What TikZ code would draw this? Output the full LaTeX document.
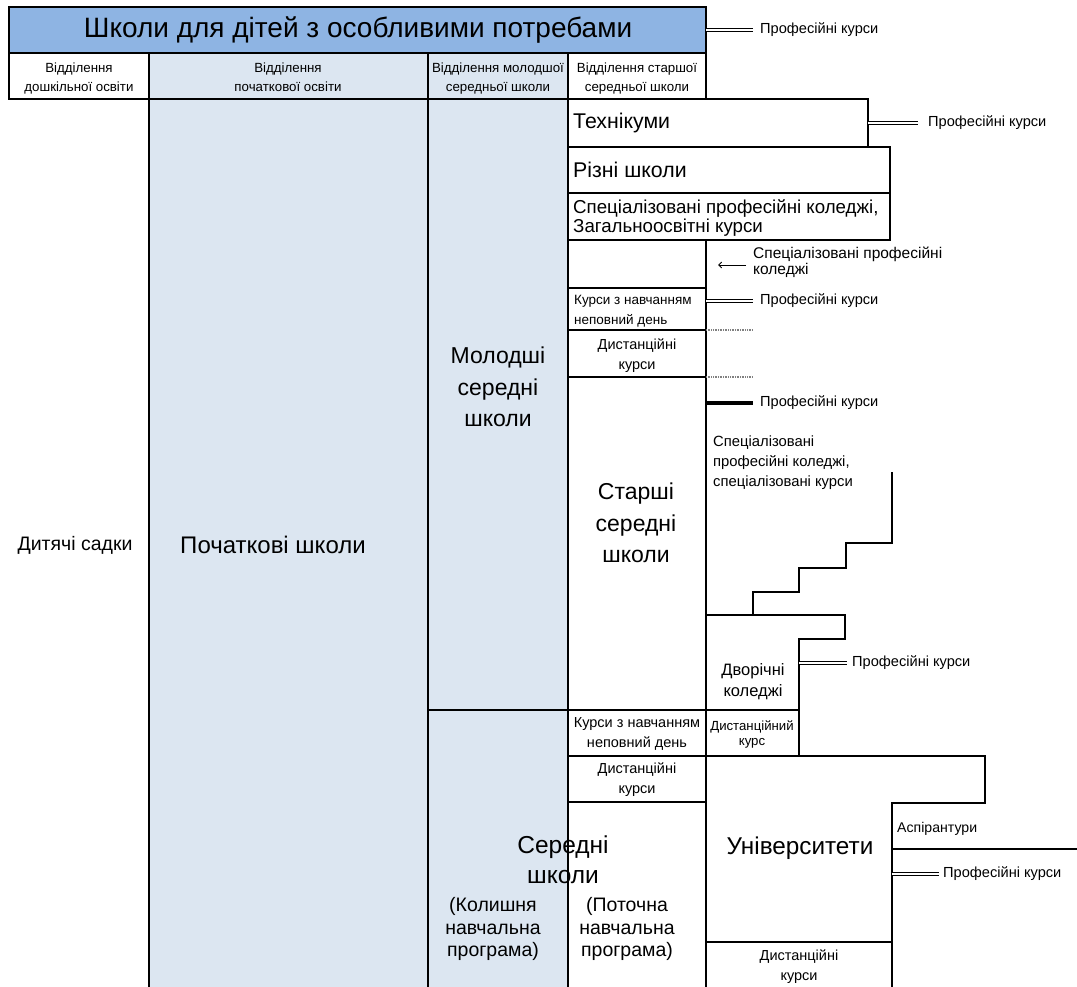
\documentclass[tikz,border=0pt]{standalone}
\usepackage{fontspec}
\setmainfont{Liberation Sans}
\usetikzlibrary{arrows.meta}
\definecolor{titleblue}{HTML}{8EB4E3}
\definecolor{paleblue}{HTML}{DCE6F1}
\newcommand\fsz[2]{\fontsize{#1}{#2}\selectfont}
\begin{document}
\begin{tikzpicture}[x=1pt,y=-1pt,
  frame/.style={draw=black, line width=2.2pt},
  thinframe/.style={draw=black, line width=1.6pt},
  dbl/.style={draw=black, double=white, line width=1.4pt, double distance=1.4pt},
  heavy/.style={draw=black, line width=4pt},
  dotline/.style={draw=gray, line width=2pt, dash pattern=on 1pt off 0.7pt},
  lbl/.style={inner sep=0pt, align=center},
  lbll/.style={inner sep=0pt, align=left, anchor=west},
  hdr/.style={lbl, font=\fsz{13.3}{19}},
  big/.style={lbl, font=\fsz{23}{31.5}},
  mid/.style={lbl, font=\fsz{19.5}{22.5}},
  small/.style={lbl, font=\fsz{14.5}{20}},
  side/.style={lbll, font=\fsz{14.6}{16}},
]
\useasboundingbox (0,0) rectangle (1077,987);

% column bodies
\fill[paleblue] (149,99) rectangle (568,987);
\draw[frame] (149,99) -- (149,987);
\draw[frame] (428,99) -- (428,987);
\draw[frame] (568,99) -- (568,987);
\draw[frame] (428,710) -- (706,710);

% title bar and header row
\draw[frame, fill=titleblue] (9,7) rectangle (706,53);
\draw[thinframe] (9,53) rectangle (149,99);
\draw[thinframe, fill=paleblue] (149,53) rectangle (428,99);
\draw[thinframe, fill=paleblue] (428,53) rectangle (568,99);
\draw[thinframe] (568,53) rectangle (706,99);
\draw[draw=black, line width=2.8pt] (9,99) -- (706,99);

% upper secondary stack
\draw[frame] (568,99) rectangle (868,147);
\draw[frame] (568,147) rectangle (890,193);
\draw[frame] (568,193) rectangle (890,240);
\draw[thinframe] (568,240) rectangle (706,288);
\draw[thinframe] (568,288) rectangle (706,330);
\draw[thinframe] (568,330) rectangle (706,377);
\draw[thinframe] (568,377) rectangle (706,710);
\draw[frame] (706,240) -- (706,987);

% two-year colleges
\draw[frame] (706,615) -- (845,615) -- (845,639) -- (799,639) -- (799,756);
\draw[thinframe] (706,710) -- (799,710);

% lower part of the upper secondary column
\draw[thinframe] (568,710) rectangle (706,756);
\draw[thinframe] (568,756) rectangle (706,802);

% universities
\draw[frame] (706,756) -- (985,756) -- (985,803) -- (892,803) -- (892,987);
\draw[thinframe] (706,942) -- (892,942);
\draw[frame] (892,849) -- (1077,849);

% specialised colleges stairs
\draw[frame] (892,472) -- (892,543) -- (846,543) -- (846,568) -- (799,568)
  -- (799,592) -- (753,592) -- (753,615);

% texts
\node[lbl, font=\fsz{28}{30}] (title) at (358,30) {Школи для дітей з особливими потребами};
\node[hdr] (h1) at (79,78) {Відділення\strut\\дошкільної освіти\strut};
\node[hdr] (h2) at (288,78) {Відділення\strut\\початкової освіти\strut};
\node[hdr] (h3) at (498,78) {Відділення молодшої\strut\\середньої школи\strut};
\node[hdr] (h4) at (637,78) {Відділення старшої\strut\\середньої школи\strut};

\node[lbl, font=\fsz{19.5}{22}] (kinder) at (75,545) {Дитячі садки};
\node[lbl, font=\fsz{24}{28}] (prim) at (273,545) {Початкові школи};
\node[big] (junior) at (498,387) {Молодші\\середні\\школи};

\node[lbll, font=\fsz{21.3}{24}] (tech) at (573,123) {Технікуми};
\node[lbll, font=\fsz{21.3}{24}] (misc) at (573,170) {Різні школи};
\node[lbll, font=\fsz{18.7}{18.5}] (spec) at (573,218) {Спеціалізовані професійні коледжі,\\Загальноосвітні курси};
\node[lbll, font=\fsz{13.5}{20}] (part1) at (574,310) {Курси з навчанням\strut\\неповний день\strut};
\node[small] (dist1) at (637,355) {Дистанційні\strut\\курси\strut};
\node[big] (senior) at (636,523) {Старші\\середні\\школи};

\node[side, font=\fsz{15.5}{16}] (speccol) at (753,262) {Спеціалізовані професійні\\коледжі};
\coordinate (arrS) at (746,265);
\coordinate (arrE) at (718,265);
\draw[-{Straight Barb[length=3pt,width=6pt]}, line width=0.9pt] (arrS) -- (arrE);

\node[lbll, font=\fsz{14.8}{20}] (specc) at (713,463) {Спеціалізовані\\професійні коледжі,\\спеціалізовані курси};

\node[lbl, font=\fsz{16.5}{21}] (twoyr) at (753,682) {Дворічні\\коледжі};
\node[small] (part2) at (637,733) {Курси з навчанням\strut\\неповний день\strut};
\node[lbl, font=\fsz{13.2}{15}] (dist2) at (752,734) {Дистанційний\\курс};
\node[small] (dist3) at (637,779) {Дистанційні\strut\\курси\strut};

\node[lbl, font=\fsz{24.3}{28}] (univ) at (800,848) {Університети};
\node[lbll, font=\fsz{14.1}{16}] (grad) at (897,829) {Аспірантури};
\node[small] (dist4) at (799,966) {Дистанційні\strut\\курси\strut};

\node[lbl, font=\fsz{24.5}{30}] (midsch) at (563,860) {Середні\\школи};
\node[mid] (oldprog) at (493,929) {(Колишня\\навчальна\\програма)};
\node[mid] (newprog) at (627,929) {(Поточна\\навчальна\\програма)};

% professional courses labels and their links
\node[side] (pc1) at (760,30) {Професійні курси};
\node[side] (pc2) at (928,123) {Професійні курси};
\node[side] (pc3) at (760,301) {Професійні курси};
\node[side] (pc4) at (760,403) {Професійні курси};
\node[side] (pc5) at (852,663) {Професійні курси};
\node[side] (pc6) at (943,874) {Професійні курси};

\coordinate (t1) at (706,30);   \coordinate (e1) at (753,30);
\coordinate (t2) at (868,123);  \coordinate (e2) at (918,123);
\coordinate (t3) at (706,301);  \coordinate (e3) at (753,301);
\coordinate (t4) at (706,403);  \coordinate (e4) at (753,403);
\coordinate (t5) at (799,663);  \coordinate (e5) at (847,663);
\coordinate (t6) at (892,874);  \coordinate (e6) at (939,874);
\draw[dbl] (t1) -- (e1);
\draw[dbl] (t2) -- (e2);
\draw[dbl] (t3) -- (e3);
\draw[heavy] (t4) -- (e4);
\draw[dbl] (t5) -- (e5);
\draw[dbl] (t6) -- (e6);

% dotted separators beside the course boxes
\coordinate (d1a) at (706,330); \coordinate (d1b) at (753,330);
\coordinate (d2a) at (706,377); \coordinate (d2b) at (753,377);
\draw[dotline] (d1a) -- (d1b);
\draw[dotline] (d2a) -- (d2b);
\end{tikzpicture}
\end{document}
